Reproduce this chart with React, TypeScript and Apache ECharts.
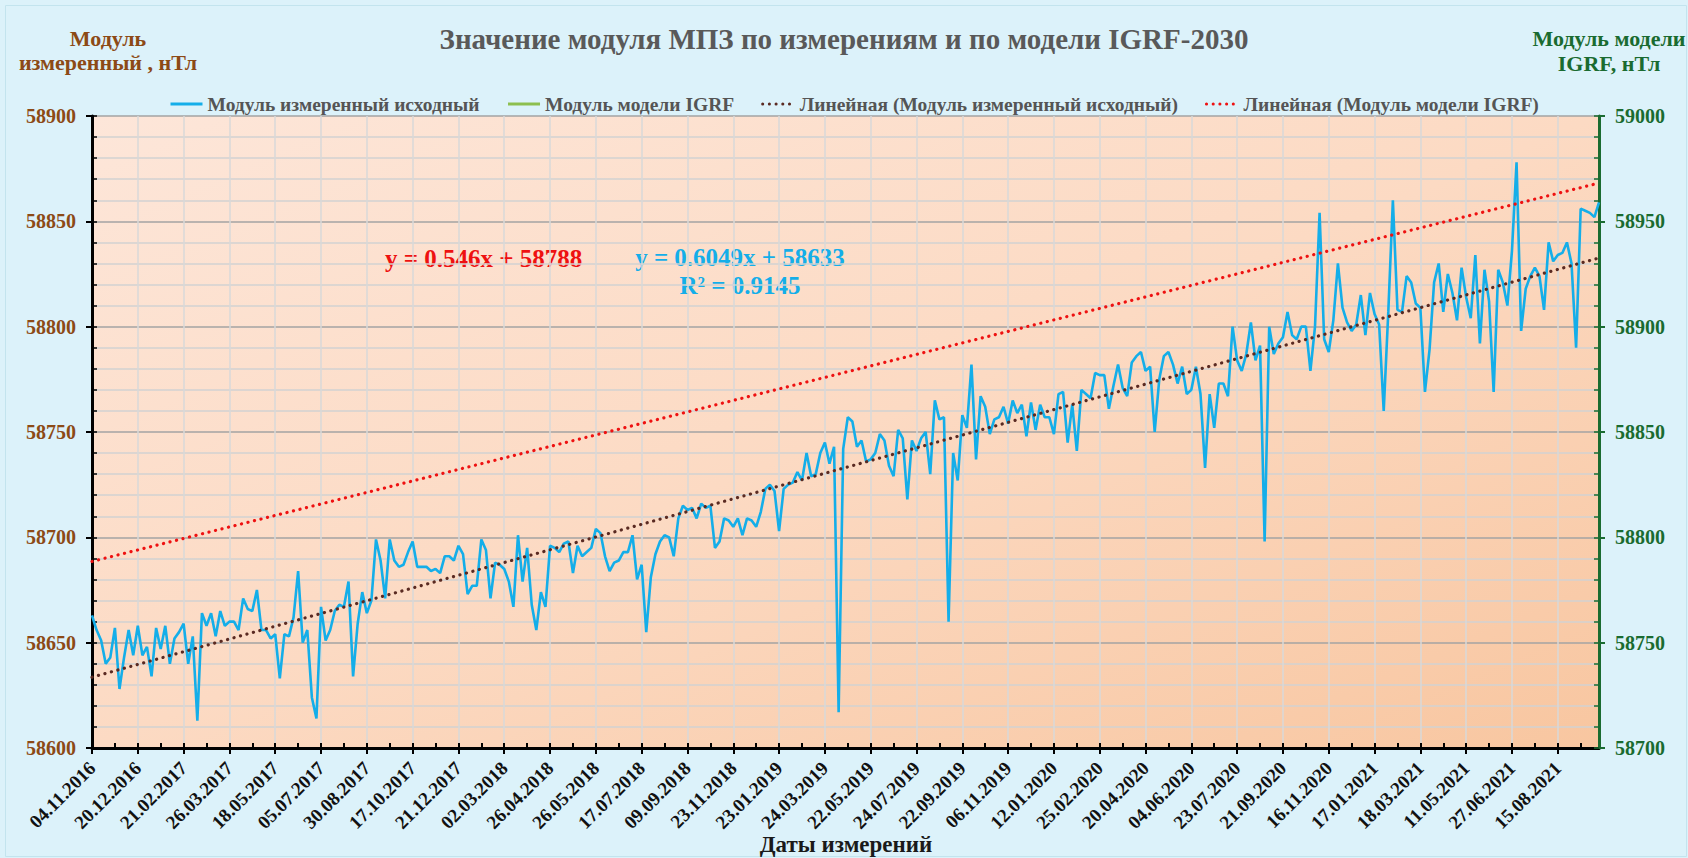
import React, { useEffect, useRef } from 'react';
import * as echarts from 'echarts';

const DATE_LABELS = [
  '04.11.2016', '20.12.2016', '21.02.2017', '26.03.2017', '18.05.2017', '05.07.2017',
  '30.08.2017', '17.10.2017', '21.12.2017', '02.03.2018', '26.04.2018', '26.05.2018',
  '17.07.2018', '09.09.2018', '23.11.2018', '23.01.2019', '24.03.2019', '22.05.2019',
  '24.07.2019', '22.09.2019', '06.11.2019', '12.01.2020', '25.02.2020', '20.04.2020',
  '04.06.2020', '23.07.2020', '21.09.2020', '16.11.2020', '17.01.2021', '18.03.2021',
  '11.05.2021', '27.06.2021', '15.08.2021',
];

const MEASURED = [
  58663, 58656, 58651, 58640, 58643, 58657, 58628, 58643, 58656, 58644,
  58658, 58644, 58648, 58634, 58657, 58647, 58658, 58640, 58652, 58655,
  58659, 58640, 58653, 58613, 58664, 58658, 58664, 58653, 58665, 58658,
  58660, 58660, 58656, 58671, 58666, 58665, 58675, 58656, 58656, 58652,
  58654, 58633, 58654, 58653, 58662, 58684, 58650, 58656, 58624, 58614,
  58667, 58651, 58656, 58665, 58668, 58667, 58679, 58634, 58659, 58674,
  58664, 58670, 58699, 58689, 58671, 58699, 58689, 58686, 58687, 58693,
  58698, 58686, 58686, 58686, 58684, 58685, 58683, 58691, 58691, 58689,
  58696, 58692, 58673, 58677, 58677, 58699, 58694, 58671, 58688, 58687,
  58685, 58679, 58667, 58701, 58679, 58695, 58668, 58656, 58674, 58667,
  58696, 58695, 58693, 58697, 58698, 58683, 58696, 58691, 58693, 58695,
  58704, 58702, 58691, 58684, 58688, 58689, 58693, 58693, 58701, 58680,
  58687, 58655, 58681, 58692, 58698, 58701, 58700, 58691, 58709, 58715,
  58713, 58714, 58709, 58716, 58714, 58715, 58695, 58698, 58709, 58708,
  58705, 58709, 58701, 58709, 58708, 58705, 58712, 58723, 58725, 58722,
  58703, 58723, 58725, 58726, 58731, 58727, 58740, 58729, 58730, 58740,
  58745, 58735, 58743, 58617, 58742, 58757, 58755, 58743, 58746, 58736,
  58737, 58740, 58749, 58746, 58734, 58729, 58751, 58747, 58718, 58746,
  58741, 58747, 58750, 58730, 58765, 58756, 58757, 58660, 58740, 58727,
  58758, 58752, 58782, 58737, 58767, 58762, 58749, 58756, 58757, 58762,
  58754, 58765, 58759, 58763, 58748, 58764, 58751, 58763, 58757, 58757,
  58749, 58768, 58769, 58745, 58763, 58741, 58770, 58768, 58766, 58778,
  58777, 58777, 58761, 58772, 58782, 58771, 58767, 58783, 58786, 58788,
  58779, 58781, 58750, 58775, 58786, 58788, 58782, 58773, 58781, 58768,
  58770, 58781, 58768, 58733, 58768, 58752, 58773, 58773, 58767, 58800,
  58784, 58779, 58787, 58802, 58784, 58791, 58698, 58800, 58787, 58792,
  58795, 58807, 58796, 58794, 58800, 58800, 58779, 58800, 58854, 58794,
  58788, 58803, 58830, 58809, 58802, 58798, 58801, 58815, 58796, 58816,
  58806, 58801, 58760, 58807, 58860, 58808, 58807, 58824, 58821, 58811,
  58809, 58769, 58789, 58821, 58830, 58807, 58825, 58816, 58803, 58828,
  58814, 58804, 58834, 58792, 58827, 58812, 58769, 58827, 58821, 58810,
  58836, 58878, 58798, 58818, 58824, 58828, 58824, 58808, 58840, 58831,
  58834, 58835, 58840, 58830, 58790, 58856, 58855, 58854, 58852, 58859,
];

// The IGRF model series appears only in the legend of the reference picture
const IGRF_MODEL: number[] = [];

const TREND_MEASURED = { slope: 0.6049, intercept: 58633, r2: 0.9145 };
const TREND_IGRF = { slope: 0.546, intercept: 58788 };

const LEFT_AXIS = { min: 58600, max: 58900, step: 50, minorStep: 10 };
const RIGHT_AXIS = { min: 58700, max: 59000, step: 50, minorStep: 10 };

const SERIES_NAMES = [
  'Модуль измеренный исходный',
  'Модуль модели IGRF',
  'Линейная (Модуль измеренный исходный)',
  'Линейная (Модуль модели IGRF)',
];

const X_AXIS_TITLE = 'Даты измерений';

const FONT = "'Liberation Serif', 'Times New Roman', serif";

export default function App() {
  const ref = useRef<HTMLDivElement>(null);

  useEffect(() => {
    document.body.style.margin = '0';
    if (!ref.current) return;
    const chart = echarts.init(ref.current, undefined, { renderer: 'svg' });

    const n = MEASURED.length;
    const categories = MEASURED.map((_, i) => String(i + 1));
    const trend = (t: { slope: number; intercept: number }) =>
      MEASURED.map((_, i) => (i === 0 || i === n - 1 ? t.intercept + t.slope * (i + 1) : null));

    const minorColors = ['#a3a3a3', '#d2d2d2', '#d2d2d2', '#d2d2d2', '#d2d2d2'];
    const plain = (v: number) => String(v);

    chart.setOption({
      animation: false,
      backgroundColor: '#dcf2fa',
      textStyle: { fontFamily: FONT },
      title: {
        text: 'Значение модуля МПЗ по измерениям и по модели IGRF-2030',
        left: 'center',
        top: 19,
        textStyle: { fontFamily: FONT, fontSize: 29, fontWeight: 'bold', color: '#595959' },
      },
      legend: {
        top: 89,
        left: 164,
        itemWidth: 32,
        itemHeight: 14,
        itemGap: 27,
        itemStyle: { opacity: 0 },
        lineStyle: { width: 3 },
        textStyle: { fontFamily: FONT, fontSize: 19.5, fontWeight: 'bold', color: '#555555' },
        data: SERIES_NAMES,
      },
      grid: {
        left: 92,
        right: 89,
        top: 116,
        bottom: 110,
        outerBoundsMode: 'none',
        containLabel: false,
        show: true,
        borderWidth: 0,
        backgroundColor: new echarts.graphic.LinearGradient(0, 0, 1, 1, [
          { offset: 0, color: '#fde6d9' },
          { offset: 0.5, color: '#fcdac3' },
          { offset: 1, color: '#f8c6a0' },
        ]),
      },
      xAxis: [
        {
          type: 'category',
          data: categories,
          boundaryGap: false,
          axisLine: { lineStyle: { color: '#000', width: 3 } },
          axisTick: { interval: 9, length: 6, lineStyle: { color: '#000', width: 2 } },
          axisLabel: {
            interval: 9,
            rotate: 45,
            margin: 17,
            fontFamily: FONT,
            fontSize: 19,
            fontWeight: 'bold',
            color: '#111',
            formatter: (_v: string, idx: number) => DATE_LABELS[Math.round(idx / 10)] ?? '',
          },
          splitLine: { show: true, interval: 9, lineStyle: { color: '#d8d8d8', width: 1.5 } },
        },
        {
          type: 'category',
          data: categories,
          boundaryGap: false,
          position: 'bottom',
          axisLine: { show: false },
          axisTick: { inside: true, interval: 4, length: 5, lineStyle: { color: '#000', width: 2 } },
          axisLabel: { show: false },
          splitLine: { show: false },
        },
      ],
      yAxis: [
        {
          type: 'value',
          position: 'left',
          min: LEFT_AXIS.min,
          max: LEFT_AXIS.max,
          interval: LEFT_AXIS.step,
          axisLine: { show: true, lineStyle: { color: '#000', width: 3 } },
          axisTick: { show: true, length: 6, lineStyle: { color: '#000', width: 2 } },
          axisLabel: {
            margin: 16,
            formatter: plain,
            fontFamily: FONT,
            fontSize: 20,
            fontWeight: 'bold',
            color: '#8c4a16',
          },
          splitLine: { show: false },
        },
        {
          type: 'value',
          position: 'right',
          min: RIGHT_AXIS.min,
          max: RIGHT_AXIS.max,
          interval: RIGHT_AXIS.step,
          axisLine: { show: true, lineStyle: { color: '#1a6b30', width: 3 } },
          axisTick: { show: true, length: 6, lineStyle: { color: '#1a6b30', width: 2 } },
          axisLabel: {
            margin: 16,
            formatter: plain,
            fontFamily: FONT,
            fontSize: 20,
            fontWeight: 'bold',
            color: '#1a6b30',
          },
          splitLine: { show: false },
        },
        {
          type: 'value',
          position: 'left',
          min: LEFT_AXIS.min,
          max: LEFT_AXIS.max,
          interval: LEFT_AXIS.minorStep,
          axisLine: { show: false },
          axisTick: { show: true, inside: true, length: 5, lineStyle: { color: '#000', width: 1.5 } },
          axisLabel: { show: false },
          splitLine: { show: true, lineStyle: { color: minorColors, width: 1.5 } },
        },
        {
          type: 'value',
          position: 'right',
          min: RIGHT_AXIS.min,
          max: RIGHT_AXIS.max,
          interval: RIGHT_AXIS.minorStep,
          axisLine: { show: false },
          axisTick: { show: true, inside: true, length: 5, lineStyle: { color: '#1a6b30', width: 1.5 } },
          axisLabel: { show: false },
          splitLine: { show: false },
        },
      ],
      series: [
        {
          name: SERIES_NAMES[0],
          type: 'line',
          data: MEASURED,
          yAxisIndex: 0,
          symbol: 'none',
          lineStyle: { color: '#14aee9', width: 2.6 },
          itemStyle: { color: '#14aee9' },
          z: 3,
        },
        {
          name: SERIES_NAMES[1],
          type: 'line',
          data: IGRF_MODEL,
          yAxisIndex: 1,
          symbol: 'none',
          lineStyle: { color: '#8dbf4f', width: 3 },
          itemStyle: { color: '#8dbf4f' },
        },
        {
          name: SERIES_NAMES[2],
          type: 'line',
          data: trend(TREND_MEASURED),
          yAxisIndex: 0,
          connectNulls: true,
          symbol: 'none',
          lineStyle: { color: '#5a2a22', width: 3.2, type: [0.1, 6.6], cap: 'round' },
          itemStyle: { color: '#5a2a22' },
          z: 4,
        },
        {
          name: SERIES_NAMES[3],
          type: 'line',
          data: trend(TREND_IGRF),
          yAxisIndex: 1,
          connectNulls: true,
          symbol: 'none',
          lineStyle: { color: '#ee1111', width: 3.2, type: [0.1, 6.6], cap: 'round' },
          itemStyle: { color: '#ee1111' },
          z: 4,
        },
      ],
      graphic: [
        {
          type: 'rect',
          left: 3,
          top: 3,
          shape: { width: 1681, height: 851 },
          style: { fill: 'none', stroke: '#c3e4ee', lineWidth: 1 },
          silent: true,
        },
        {
          type: 'text',
          x: 846,
          y: 844,
          style: {
            text: X_AXIS_TITLE,
            textAlign: 'center',
            textVerticalAlign: 'middle',
            font: `bold 23px ${FONT}`,
            fill: '#1a1a1a',
          },
        },
        {
          type: 'text',
          x: 108,
          y: 50,
          style: {
            text: 'Модуль\nизмеренный , нТл',
            textAlign: 'center',
            textVerticalAlign: 'middle',
            font: `bold 22px ${FONT}`,
            lineHeight: 24,
            fill: '#8c4a16',
          },
        },
        {
          type: 'text',
          x: 1609,
          y: 51,
          style: {
            text: 'Модуль модели\nIGRF, нТл',
            textAlign: 'center',
            textVerticalAlign: 'middle',
            font: `bold 22px ${FONT}`,
            lineHeight: 25,
            fill: '#1a6b30',
          },
        },
        {
          type: 'text',
          x: 385,
          y: 258,
          style: {
            text: `y = ${TREND_IGRF.slope}x + ${TREND_IGRF.intercept}`,
            textAlign: 'left',
            textVerticalAlign: 'middle',
            font: `bold 25px ${FONT}`,
            fill: '#ee1111',
          },
        },
        {
          type: 'text',
          x: 740,
          y: 271,
          style: {
            text: `y = ${TREND_MEASURED.slope}x + ${TREND_MEASURED.intercept}\nR² = ${TREND_MEASURED.r2}`,
            textAlign: 'center',
            textVerticalAlign: 'middle',
            font: `bold 25px ${FONT}`,
            lineHeight: 28,
            fill: '#14aee9',
          },
        },
      ],
    });

    return () => chart.dispose();
  }, []);

  return <div ref={ref} style={{ width: 1688, height: 858 }} />;
}
